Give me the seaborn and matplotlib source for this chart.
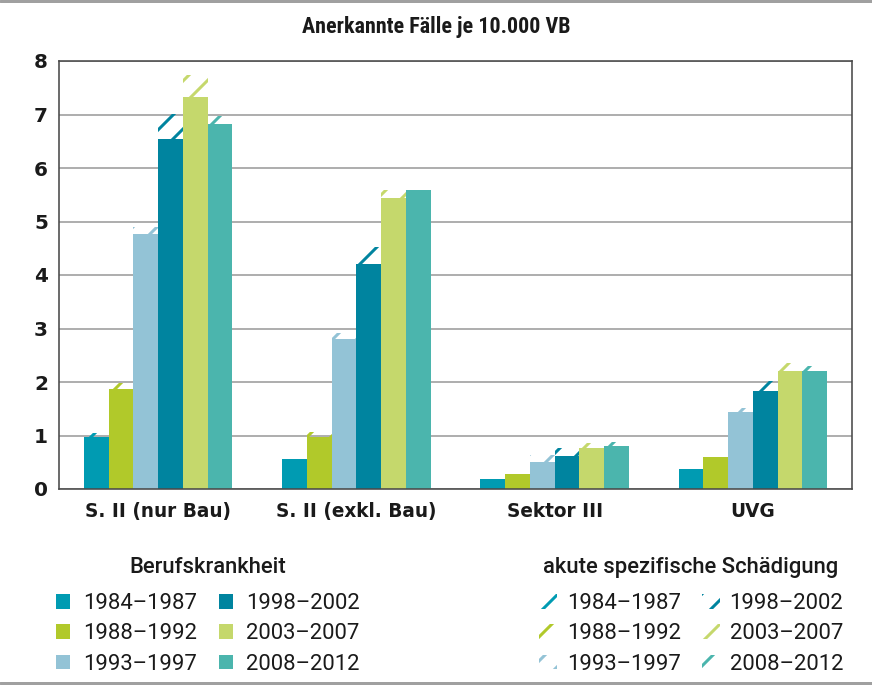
import matplotlib
matplotlib.use("Agg")
import matplotlib.pyplot as plt
from matplotlib.patches import Patch
from matplotlib.lines import Line2D
import pandas as pd
import seaborn as sns

# data (Anerkannte Fälle je 10.000 VB)
categories = ["S. II (nur Bau)", "S. II (exkl. Bau)", "Sektor III", "UVG"]
periods = ["1984–1987", "1988–1992", "1993–1997", "1998–2002", "2003–2007", "2008–2012"]
colors = ["#009bb2", "#b1c92a", "#93c3d6", "#00849f", "#c5d86c", "#4bb5ad"]

# Berufskrankheit (solid bars)
bk_1984 = [0.97, 0.56, 0.19, 0.37]
bk_1988 = [1.87, 0.97, 0.28, 0.60]
bk_1993 = [4.77, 2.81, 0.51, 1.44]
bk_1998 = [6.55, 4.21, 0.62, 1.83]
bk_2003 = [7.32, 5.43, 0.76, 2.21]
bk_2008 = [6.82, 5.58, 0.80, 2.21]

# akute spezifische Schädigung (hatched part on top)
ak_1984 = [0.08, 0.00, 0.00, 0.00]
ak_1988 = [0.12, 0.10, 0.00, 0.00]
ak_1993 = [0.12, 0.11, 0.13, 0.08]
ak_1998 = [0.45, 0.32, 0.15, 0.19]
ak_2003 = [0.42, 0.15, 0.10, 0.14]
ak_2008 = [0.15, 0.00, 0.08, 0.09]

bk = [bk_1984, bk_1988, bk_1993, bk_1998, bk_2003, bk_2008]
ak = [ak_1984, ak_1988, ak_1993, ak_1998, ak_2003, ak_2008]

rows = []
for p, vals in zip(periods, bk):
    for c, v in zip(categories, vals):
        rows.append({"Kategorie": c, "Periode": p, "Wert": v})
df = pd.DataFrame(rows)

DPI = 144
def pt(px):
    # pixel size -> points at this dpi
    return px * 72 / DPI

TXT = "#1a1a1a"
sns.set_style("white")
plt.rcParams["font.family"] = ["Roboto", "DejaVu Sans"]
plt.rcParams["hatch.linewidth"] = pt(3)

fig = plt.figure(figsize=(872 / DPI, 686 / DPI), dpi=DPI)
ax = fig.add_axes([59 / 872, 1 - 489 / 686, 793 / 872, 428 / 686])

sns.barplot(data=df, x="Kategorie", y="Wert", hue="Periode", order=categories,
            hue_order=periods, palette=colors, width=0.75, saturation=1,
            errorbar=None, legend=False, linewidth=0, ax=ax)

# hatched stacked part
for cont, col, base, extra in zip(ax.containers, colors, bk, ak):
    xs = [b.get_x() + b.get_width() / 2 for b in cont]
    w = cont[0].get_width()
    ax.bar(xs, extra, width=w, bottom=base, facecolor="none", edgecolor=col,
           hatch="//", linewidth=0, zorder=3)

ax.set_xlim(-0.5, 3.5)
ax.set_ylim(0, 8)
ax.set_yticks(range(0, 9))
ax.set_xlabel("")
ax.set_ylabel("")
ax.yaxis.grid(True, color="#9c9c9c", linewidth=pt(1.6))
ax.set_axisbelow(True)
for s in ax.spines.values():
    s.set_visible(True)
    s.set_color("#4a4a4a")
    s.set_linewidth(pt(1.6))
ax.tick_params(axis="y", length=0, pad=pt(11), labelsize=pt(20))
ax.tick_params(axis="x", length=0, pad=pt(13), labelsize=pt(18.5))
for lab in ax.get_xticklabels() + ax.get_yticklabels():
    lab.set_fontfamily("DejaVu Sans")
    lab.set_fontweight("bold")
    lab.set_color(TXT)

fig.text(0.5, 1 - 33 / 686, "Anerkannte Fälle je 10.000 VB", ha="center",
         va="baseline", fontsize=pt(22), fontweight="bold", color=TXT,
         family=["Roboto Condensed", "Roboto", "DejaVu Sans"])

# legends
h_bk = [Patch(facecolor=c, edgecolor="none") for c in colors]
h_ak = [Patch(facecolor="none", edgecolor=c, hatch="//", linewidth=0) for c in colors]
leg_kw = dict(ncol=2, frameon=False, fontsize=pt(22), title_fontsize=pt(22),
              labelspacing=0.43, borderaxespad=0, borderpad=0)
leg1 = fig.legend(h_bk, periods, title="Berufskrankheit", loc="upper center",
                  bbox_to_anchor=(208 / 872, 1 - 557 / 686),
                  handlelength=0.64, handleheight=0.64, handletextpad=0.6,
                  columnspacing=1.0, **leg_kw)
leg2 = fig.legend(h_ak, periods, title="akute spezifische Schädigung", loc="upper center",
                  bbox_to_anchor=(691 / 872, 1 - 557 / 686),
                  handlelength=0.82, handleheight=0.64, handletextpad=0.45,
                  columnspacing=0.95, **leg_kw)
for lg in (leg1, leg2):
    lg._legend_box.sep = pt(15)
    lg.get_title().set_fontweight("medium")
    lg.get_title().set_color(TXT)
    for t in lg.get_texts():
        t.set_color(TXT)

# thin frame lines top and bottom
fig.add_artist(Line2D([0, 1], [1 - 1 / 686, 1 - 1 / 686], transform=fig.transFigure,
                      color="#a0a0a0", linewidth=pt(3)))
fig.add_artist(Line2D([0, 1], [3 / 686, 3 / 686], transform=fig.transFigure,
                      color="#a0a0a0", linewidth=pt(3)))

fig.savefig("out.png", dpi=DPI)
